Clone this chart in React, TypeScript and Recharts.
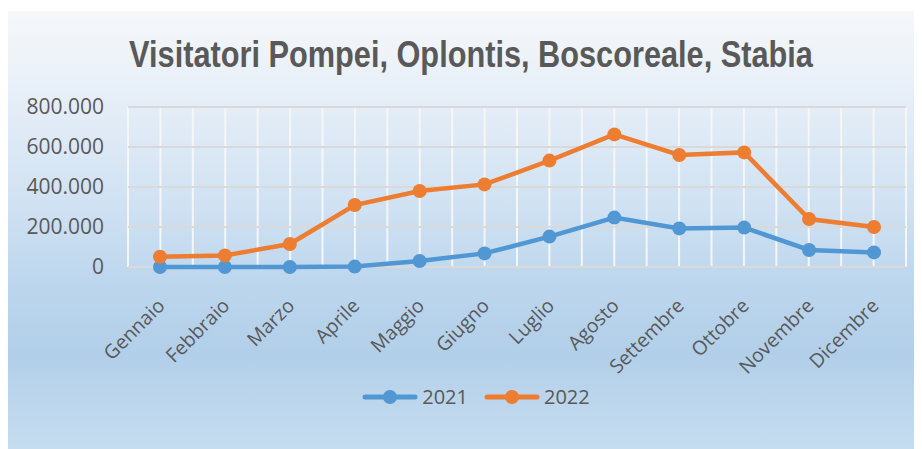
import React from 'react';
import {
	CartesianGrid,
	Legend,
	Line,
	LineChart,
	XAxis,
	YAxis,
} from 'recharts';

const months = [
	'Gennaio',
	'Febbraio',
	'Marzo',
	'Aprile',
	'Maggio',
	'Giugno',
	'Luglio',
	'Agosto',
	'Settembre',
	'Ottobre',
	'Novembre',
	'Dicembre',
];

const visits2021 = [0, 0, 0, 2000, 30000, 68000, 152000, 247000, 193000, 197000, 85000, 73000];
const visits2022 = [51000, 58000, 115000, 310000, 380000, 413000, 532000, 663000, 560000, 573000, 240000, 200000];

const yTicks = [0, 200000, 400000, 600000, 800000];

const data = months.map((m, i) => ({
	month: m,
	y2021: visits2021[i],
	y2022: visits2022[i],
}));

const BLUE = '#5097D3';
const ORANGE = '#ED7D31';
const TEXT = '#595959';
const FONT = "'Open Sans', 'Liberation Sans', sans-serif";

const fmt = (v: number) => (v === 0 ? '0' : v.toLocaleString('it-IT'));

function MonthTick({ x, y, payload }: any) {
	return (
		<g transform={`translate(${x + 6},${y + 32})`}>
			<text
				x={0}
				y={0}
				textAnchor="end"
				transform="rotate(-45)"
				fill={TEXT}
				fontSize={19.5}
				fontFamily={FONT}
			>
				{payload.value}
			</text>
		</g>
	);
}

function LegendContent({ payload }: any) {
	return (
		<div style={{ display: 'flex', justifyContent: 'center', alignItems: 'center', gap: 16, paddingLeft: 22 }}>
			{(payload || []).map((p: any) => (
				<div key={p.value} style={{ display: 'flex', alignItems: 'center' }}>
					<svg width={56} height={16}>
						<line x1={3} y1={8} x2={53} y2={8} stroke={p.color} strokeWidth={5} strokeLinecap="round" />
						<circle cx={28} cy={8} r={7} fill={p.color} />
					</svg>
					<span style={{ marginLeft: 4, fontFamily: FONT, fontSize: 20, color: TEXT }}>{p.value}</span>
				</div>
			))}
		</div>
	);
}

export default function App() {
	return (
		<div
			style={{
				position: 'relative',
				top: 3,
				width: 914,
				height: 441,
				background:
					'linear-gradient(180deg, #f6f8fa 0%, #e4edf7 22%, #cfe1f2 45%, #bcd6ed 62%, #b2cfe9 78%, #c6ddf0 100%)',
			}}
		>
			<div
				style={{
					position: 'absolute',
					top: 22,
					left: 6,
					width: 914,
					textAlign: 'center',
					fontFamily: "'Liberation Sans', Arial, sans-serif",
					fontWeight: 'bold',
					fontSize: 37,
					color: TEXT,
					lineHeight: '44px',
					transform: 'scaleX(0.83)',
					transformOrigin: '50% 50%',
					whiteSpace: 'nowrap',
				}}
			>
				Visitatori Pompei, Oplontis, Boscoreale, Stabia
			</div>
			<LineChart
				width={914}
				height={439}
				data={data}
				margin={{ top: 96, right: 16, bottom: 83, left: 0 }}
			>
				<CartesianGrid
					horizontal={false}
					stroke="#f4f6f8"
					strokeWidth={2}
					verticalCoordinatesGenerator={({ offset }: any) =>
						Array.from({ length: 25 }, (_, i) => offset.left + (i * offset.width) / 24)
					}
				/>
				<CartesianGrid vertical={false} stroke="#d9d9d9" strokeWidth={2} />
				<XAxis
					dataKey="month"
					interval={0}
					height={100}
					padding={{ left: 32, right: 32 }}
					tickLine={false}
					axisLine={false}
					tick={<MonthTick />}
				/>
				<YAxis
					width={120}
					domain={[0, 800000]}
					ticks={yTicks}
					tickFormatter={fmt}
					axisLine={false}
					tickLine={false}
					tickMargin={18}
					tick={{ fill: TEXT, fontSize: 21, fontFamily: FONT }}
				/>
				<Legend
					layout="horizontal"
					verticalAlign="middle"
					align="center"
					wrapperStyle={{ left: 0, top: 372, width: 914 }}
					content={<LegendContent />}
				/>
				<Line
					dataKey="y2021"
					name="2021"
					stroke={BLUE}
					strokeWidth={4.5}
					dot={{ r: 7, fill: BLUE, stroke: BLUE, strokeWidth: 0 }}
					activeDot={false}
					isAnimationActive={false}
				/>
				<Line
					dataKey="y2022"
					name="2022"
					stroke={ORANGE}
					strokeWidth={4.5}
					dot={{ r: 7, fill: ORANGE, stroke: ORANGE, strokeWidth: 0 }}
					activeDot={false}
					isAnimationActive={false}
				/>
			</LineChart>
		</div>
	);
}
